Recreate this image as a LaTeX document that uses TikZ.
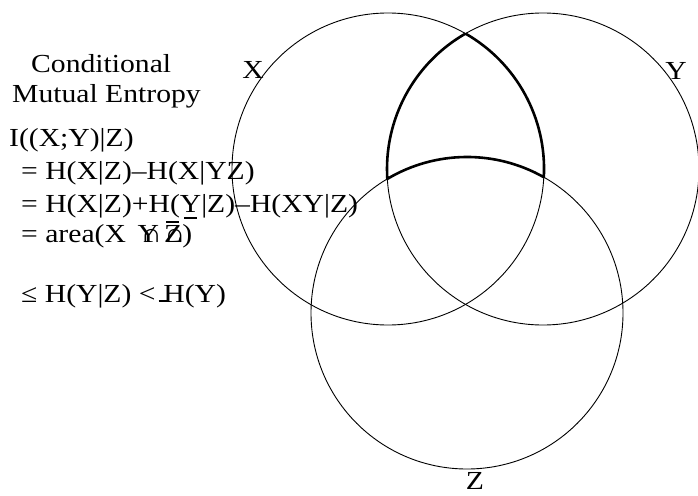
\documentclass[tikz,border=0pt]{standalone}
\usepackage{fontspec}
\setmainfont[FakeStretch=1.14]{Liberation Serif}
\newcommand{\ovlbar}[2]{\rlap{\hspace{#1}\raisebox{#2}{\rule{0.5em}{0.07em}}}}
\begin{document}
\begin{tikzpicture}[x=1pt,y=-1pt,
  txt/.style={anchor=base west,inner sep=0pt,font=\fontsize{26}{31}\selectfont},
  lbl/.style={anchor=base,inner sep=0pt,font=\fontsize{26}{31}\selectfont},
  ring/.style={draw=black,line width=0.9pt},
  boldarc/.style={draw=black,line width=2.6pt,line join=round}]
\useasboundingbox (0,0) rectangle (698,495);
\fill[white] (0,0) rectangle (698,495);
% circle centres
\coordinate (cX) at (388,169);
\coordinate (cY) at (543,169);
\coordinate (cZ) at (467,313);
\draw[ring] (cX) circle[radius=156];
\draw[ring] (cY) circle[radius=156];
\draw[ring] (cZ) circle[radius=156];
% bold boundary of X and Y outside Z
\draw[boldarc] ([shift={(-77.5,-135.39)}]cY)
  arc[start angle=-119.79, end angle=-183.64, radius=156]
  arc[start angle=-120.73, end angle=-60.51, radius=156]
  arc[start angle=3.01, end angle=-60.21, radius=156];
% circle labels
\node[lbl] (lX) at (253,78) {X};
\node[lbl] (lY) at (676,79) {Y};
\node[lbl] (lZ) at (475,489) {Z};
% text block
\node[txt] (t1) at (31,72) {Conditional};
\node[txt] (t2) at (12,102) {Mutual Entropy};
\node[txt] (t3) at (9,146) {I((X;Y)|Z)};
\node[txt] (t4) at (21,179) {= H(X|Z)–H(X|YZ)};
\node[txt] (t5) at (21,212) {= H(X|Z)+H(\ovlbar{0.17em}{-0.25em}Y|Z)–H(XY|Z)};
\node[txt] (t6) at (21,242) {= area(X\hspace{0.45em}\rlap{\hspace{0.12em}∩}Y\hspace{0.2em}\rlap{∩}\ovlbar{0.08em}{0.72em}Z)};
\node[txt] (t7) at (21,302) {≤ H(Y|Z) <\rlap{\hspace{0.12em}\rule{0.4em}{0.06em}}\hspace{0.3em}H(Y)};
\end{tikzpicture}
\end{document}
